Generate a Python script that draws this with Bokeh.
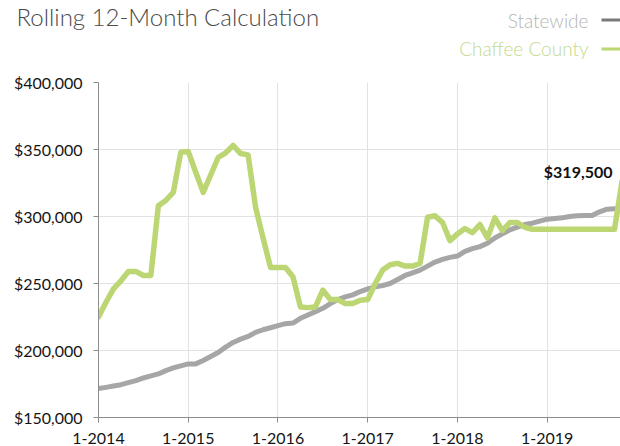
from bokeh.plotting import figure
from bokeh.layouts import column, row
from bokeh.models import Range1d, FixedTicker, NumeralTickFormatter, Label, ColumnDataSource
from bokeh.core.properties import value
from bokeh.embed import file_html
from bokeh.resources import INLINE

# ---- data (monthly, starting 1-2014) ----
statewide = [
    171600, 172500, 173500, 174500, 176000, 177500, 179500, 181000, 182500, 185000, 187000, 188500,
    190000, 190000, 192500, 195500, 198500, 202500, 206000, 208500, 210500, 213500, 215500, 217000,
    218500, 220000, 220500, 224000, 226500, 229000, 231500, 235000, 238000, 240000, 241500, 244000,
    246000, 247500, 248500, 250000, 253000, 256000, 258000, 260000, 263000, 266000, 268000, 269500,
    270500, 274000, 276000, 277500, 280000, 284000, 287000, 290000, 292000, 294000, 295000, 296500,
    298000, 298500, 299000, 300000, 300500, 300700, 300800, 303500, 305500, 305700,
]
chaffee = [
    225000, 236000, 246000, 252000, 259000, 259000, 256000, 256000, 308000, 312000, 318000, 348000,
    348500, 333000, 318000, 331000, 344000, 347500, 353000, 347000, 346000, 307000, 284000, 262000,
    262000, 262000, 255000, 232500, 232000, 232500, 245000, 238000, 238000, 235000, 235000, 237500,
    238000, 250000, 260000, 264000, 265000, 263000, 263000, 265000, 299500, 300500, 295500, 282000,
    287000, 291000, 288000, 294000, 284000, 299000, 289500, 295500, 295500, 292000, 290500, 290500,
    290500, 290500, 290500, 290500, 290500, 290500, 290500, 290500, 290500, 290500, 326000,
]
tick_months = [0, 12, 24, 36, 48, 60]
tick_labels = ["1-2014", "1-2015", "1-2016", "1-2017", "1-2018", "1-2019"]
y_ticks = [150000, 200000, 250000, 300000, 350000, 400000]
series_names = ["Statewide", "Chaffee County"]
series_text_colors = ["#b5b5b5", "#c3da8c"]
series_key_colors = ["#7a7a7a", "#bcd673"]
title_text = "Rolling 12-Month Calculation"
callout_text = "$319,500"

GRAY = "#a6a6a6"
GREEN = "#bcd673"

W = 620
HEAD_H = 72
MAIN_H = 446 - HEAD_H
L, R, T, B = 98, 0, 10, 29
X0, X1 = 0, 69.8
Y0, Y1 = 150000, 400000

def dx(px):
    return X0 + (px - L) / (W - L - R) * (X1 - X0)

# ---------------- header (title + legend) ----------------
head = figure(width=W, height=HEAD_H, output_backend="svg", toolbar_location=None,
              x_range=Range1d(0, W), y_range=Range1d(HEAD_H, 0),
              x_axis_location=None, y_axis_location=None,
              min_border_left=0, min_border_right=0, min_border_top=0, min_border_bottom=0)
head.outline_line_color = None
head.grid.visible = False
head.text(x=[16], y=[15.5], text=[title_text], text_font=value("Lato Light"),
          text_font_size="24px", text_color="#4a4a4a", text_align="left",
          text_baseline="alphabetic")
head.text(x=[588, 588], y=[20, 48], text=series_names, text_font=value("Lato Light"),
          text_font_size="19px", text_color=series_text_colors, text_align="right",
          text_baseline="alphabetic")
head.segment(x0=[601, 601], y0=[19.5, 48.5], x1=[620, 620], y1=[19.5, 48.5],
             line_color=series_key_colors, line_width=3)

# ---------------- main chart ----------------
p = figure(width=W, height=MAIN_H, output_backend="svg", toolbar_location=None,
           x_range=Range1d(X0, X1), y_range=Range1d(Y0, Y1),
           min_border_left=L, min_border_right=R, min_border_top=T, min_border_bottom=B)
p.outline_line_color = None

p.xaxis.ticker = FixedTicker(ticks=tick_months)
p.xaxis.major_label_overrides = {m: lab for m, lab in zip(tick_months, tick_labels)}
p.yaxis.ticker = FixedTicker(ticks=y_ticks)
p.yaxis.formatter = NumeralTickFormatter(format="$0,0")

for ax in (p.xaxis, p.yaxis):
    ax.axis_line_color = "#8c8c8c"
    ax.axis_line_width = 1
    ax.major_tick_line_color = "#8c8c8c"
    ax.major_tick_out = 5
    ax.major_tick_in = 0
    ax.minor_tick_line_color = None
    ax.major_label_text_font = "Lato"
    ax.major_label_text_font_size = "16px"
    ax.major_label_text_color = "#141414"
p.yaxis.major_label_standoff = 11
p.xaxis.major_label_standoff = 10

p.xgrid.ticker = FixedTicker(ticks=tick_months)
p.ygrid.ticker = FixedTicker(ticks=y_ticks)
p.grid.grid_line_color = "#e2e2e2"
p.grid.grid_line_width = 1

src_s = ColumnDataSource(dict(x=list(range(len(statewide))), y=statewide))
src_c = ColumnDataSource(dict(x=list(range(len(chaffee))), y=chaffee))
p.line("x", "y", source=src_s, line_color=GRAY, line_width=5, line_join="round", line_cap="round")
p.line("x", "y", source=src_c, line_color=GREEN, line_width=5.5, line_join="round", line_cap="round")

p.add_layout(Label(x=dx(612), y=333500, text=callout_text, text_font="Lato",
                   text_font_style="bold", text_font_size="16px", text_color="#111111",
                   text_align="right", text_baseline="alphabetic"))

layout = column(row(head), p, spacing=0)
open("out.html", "w").write(file_html(layout, INLINE))
